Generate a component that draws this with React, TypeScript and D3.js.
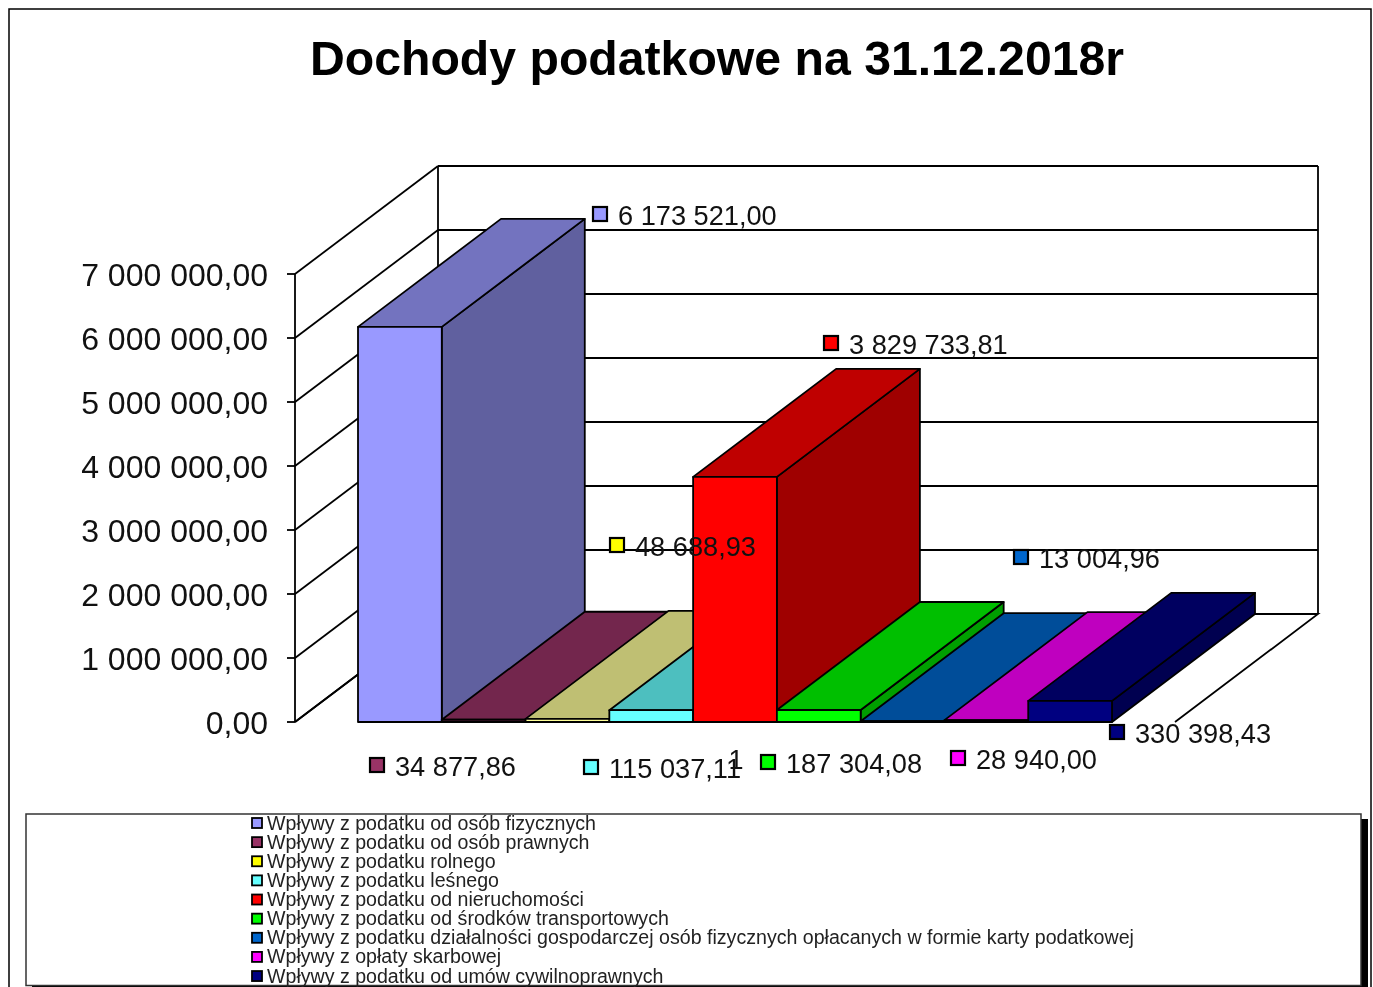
import React from "react";
import * as d3 from "d3";

const titleText = "Dochody podatkowe na 31.12.2018r";
const categoryLabel = "1";
const seriesNames = [
  "Wpływy z podatku od osób fizycznych",
  "Wpływy z podatku od osób prawnych",
  "Wpływy z podatku rolnego",
  "Wpływy z podatku leśnego",
  "Wpływy z podatku od nieruchomości",
  "Wpływy z podatku od środków transportowych",
  "Wpływy z podatku działalności gospodarczej osób fizycznych opłacanych w formie karty podatkowej",
  "Wpływy z opłaty skarbowej",
  "Wpływy z podatku od umów cywilnoprawnych",
];
// values as printed in the data labels
const seriesValues = [6173521.0, 34877.86, 48688.93, 115037.11, 3829733.81, 187304.08, 13004.96, 28940.0, 330398.43];
// bar heights (the forest-tax bar is drawn taller than its label says)
const barValues = [6173521.0, 34877.86, 48688.93, 185000, 3829733.81, 187304.08, 13004.96, 28940.0, 330398.43];
const barColors = ["#9999FF", "#993366", "#FFFF99", "#66FFFF", "#FF0000", "#00FF00", "#0066CC", "#FF00FF", "#000080"];
const markerColors = ["#9999FF", "#993366", "#FFFF00", "#66FFFF", "#FF0000", "#00FF00", "#0066CC", "#FF00FF", "#000080"];
const yTicks = [0, 1000000, 2000000, 3000000, 4000000, 5000000, 6000000, 7000000];

// layout of the data labels: [marker centre x, marker centre y]
const labelAnchors: [number, number][] = [
  [600, 214], [377, 765], [617, 545], [591, 767], [831, 343], [768, 762], [1021, 557], [958, 758], [1117, 732],
];

const W = 1373, H = 987;
const DX = 143, DY = -108;
const FONT = "'Liberation Sans', Arial, sans-serif";

const y = d3.scaleLinear().domain([0, 7000000]).range([722, 274]);
const x = d3.scaleBand().domain(seriesNames).range([358, 1112]);
const wallLeft = 295, wallRight = 1175;

const locale = d3.formatLocale({ decimal: ",", thousands: " ", grouping: [3], currency: ["", ""] });
const fmt = locale.format(",.2f");
const shade = (c: string, k: number) => {
  const r = d3.rgb(c);
  return d3.rgb(r.r * k, r.g * k, r.b * k).formatHex();
};
const pts = (p: [number, number][]) => p.map((q) => q.join(",")).join(" ");

export default function App() {
  const y0 = y(0);
  const floor: [number, number][] = [[wallLeft, y0], [wallLeft + DX, y0 + DY], [wallRight + DX, y0 + DY], [wallRight, y0]];
  return (
    <svg width={W} height={H} viewBox={`0 0 ${W} ${H}`} style={{ position: "absolute", left: 0, top: 0, display: "block", background: "#fff", filter: "blur(0.4px)" }} fontFamily={FONT}>
      <rect x={9} y={9} width={1362} height={990} fill="#fff" stroke="#000" strokeWidth={1.5} />
      <text x={717} y={75} textAnchor="middle" fontSize={48.2} fontWeight="bold" fill="#000">{titleText}</text>

      {/* walls */}
      <g fill="none" stroke="#000" strokeWidth={1.8}>
        <polyline points={pts(floor)} />
        <line x1={wallLeft} x2={wallLeft} y1={y(0)} y2={y(7000000)} />
        <line x1={wallLeft + DX} x2={wallLeft + DX} y1={y(0) + DY} y2={y(7000000) + DY} />
        <line x1={wallRight + DX} x2={wallRight + DX} y1={y(0) + DY} y2={y(7000000) + DY} />
        {yTicks.map((t) => (
          <g key={t}>
            <line x1={wallLeft - 8} x2={wallLeft} y1={y(t)} y2={y(t)} />
            <line x1={wallLeft} x2={wallLeft + DX} y1={y(t)} y2={y(t) + DY} />
            <line x1={wallLeft + DX} x2={wallRight + DX} y1={y(t) + DY} y2={y(t) + DY} />
          </g>
        ))}
      </g>
      {yTicks.map((t) => (
        <text key={t} x={268} y={y(t) + 12} textAnchor="end" fontSize={32} fill="#111">{fmt(t)}</text>
      ))}
      <text x={736} y={769} textAnchor="middle" fontSize={27} fill="#111">{categoryLabel}</text>

      {/* bars */}
      <g stroke="#000" strokeWidth={1.8} strokeLinejoin="round">
        {seriesNames.map((name, i) => {
          const x0 = x(name)!, x1 = x0 + x.bandwidth(), yt = y(barValues[i]);
          return (
            <g key={name}>
              <polygon fill={shade(barColors[i], 0.625)} points={pts([[x1, yt], [x1 + DX, yt + DY], [x1 + DX, y0 + DY], [x1, y0]])} />
              <polygon fill={shade(barColors[i], 0.75)} points={pts([[x0, yt], [x0 + DX, yt + DY], [x1 + DX, yt + DY], [x1, yt]])} />
              <rect x={x0} y={yt} width={x.bandwidth()} height={y0 - yt} fill={barColors[i]} />
            </g>
          );
        })}
      </g>

      {/* data labels */}
      {seriesValues.map((v, i) => {
        const [mx, my] = labelAnchors[i];
        return (
          <g key={i}>
            <rect x={mx - 7} y={my - 7} width={14} height={14} fill={markerColors[i]} stroke="#000" strokeWidth={2.2} />
            <text x={mx + 18} y={my + 11} fontSize={27.2} fill="#111">{fmt(v)}</text>
          </g>
        );
      })}

      {/* legend */}
      <rect x={32} y={819} width={1336} height={172} fill="#000" />
      <rect x={26} y={814} width={1335} height={171.5} fill="#fff" stroke="#333" strokeWidth={1.5} />
      {seriesNames.map((name, i) => {
        const ly = 823 + i * 19.13;
        return (
          <g key={name}>
            <rect x={252} y={ly - 5} width={10} height={10} fill={markerColors[i]} stroke="#000" strokeWidth={1.8} />
            <text x={267} y={ly + 6.5} fontSize={19.6} fill="#222">{name}</text>
          </g>
        );
      })}
    </svg>
  );
}
